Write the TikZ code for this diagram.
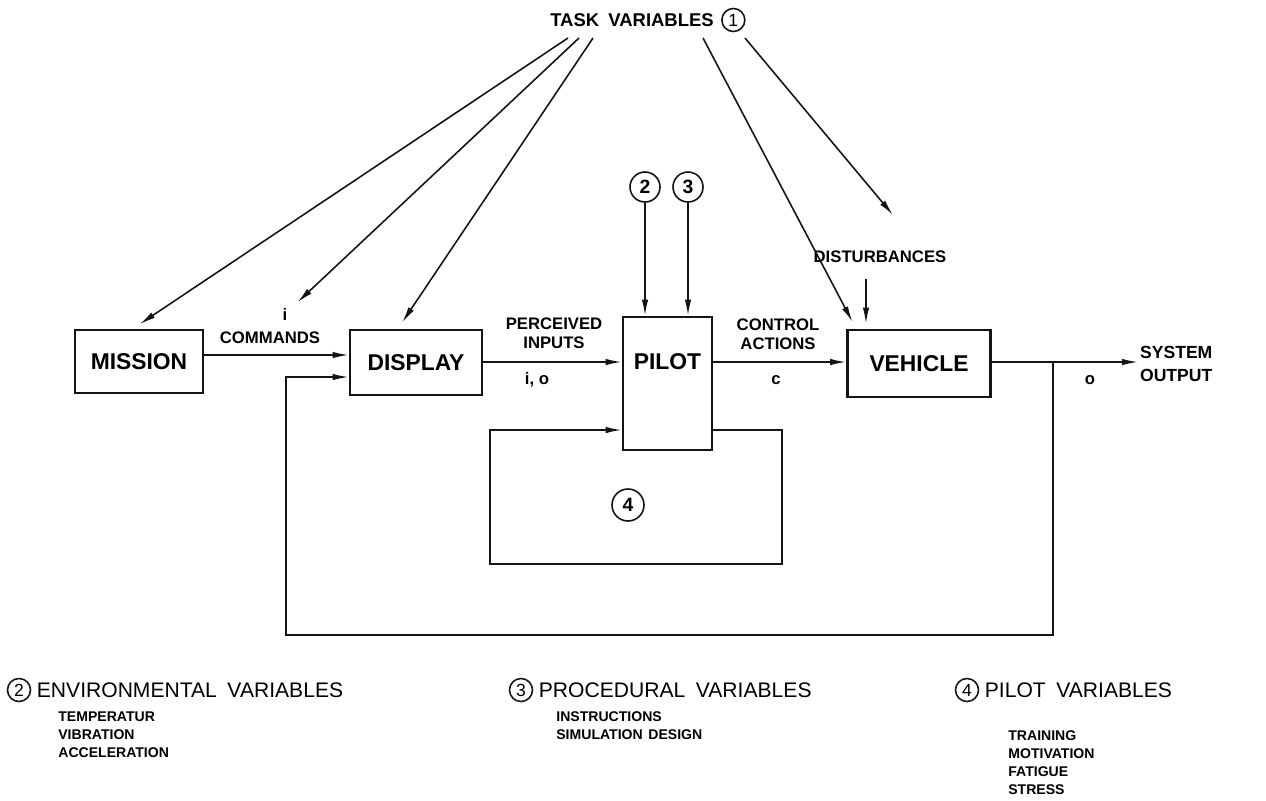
\documentclass[tikz,border=0pt]{standalone}
\usepackage{fontspec}
\setmainfont{Liberation Sans}
\usepackage{xcolor}
\definecolor{cInk}{HTML}{141414}
\usepackage{tikz}
\usetikzlibrary{positioning,arrows.meta}
\tikzset{
  node-block/.style={draw=cInk,line width=1.6pt,inner sep=0pt,align=center,
    font=\bfseries\fontsize{13}{15}\selectfont},
  node-num/.style={draw=cInk,circle,line width=0.9pt,inner sep=0pt,
    minimum size=6mm,font=\bfseries\fontsize{11}{12}\selectfont},
  node-num-small/.style={node-num,minimum size=4.6mm,font=\fontsize{10}{11}\selectfont},
  node-sig/.style={inner sep=1pt,align=center,
    font=\bfseries\fontsize{9.5}{11}\selectfont},
  node-title/.style={inner sep=1pt,font=\bfseries\fontsize{10.5}{12}\selectfont},
  legend-head/.style={inner sep=1pt,font=\fontsize{12}{14}\selectfont},
  legend-item/.style={inner sep=0pt,align=left,
    font=\bfseries\fontsize{8}{10.3}\selectfont},
  arrow/.style={-{Latex[length=3.2mm,width=1.3mm]},line width=0.9pt,draw=cInk},
  wire/.style={line width=0.9pt,draw=cInk},
}
\begin{document}
\begin{tikzpicture}[x=0.2mm,y=-0.2mm]
  \useasboundingbox (0,0) rectangle (1266,800);
  % blocks
  \node[node-block,minimum width=25.6mm,minimum height=12.6mm] (mission) at (139,361.5) {MISSION};
  \node[node-block,minimum width=26.4mm,minimum height=13mm] (display) at (416,362.5) {DISPLAY};
  \node[node-block,minimum width=17.8mm,minimum height=26.6mm] (pilot) at (667.5,383.5) {};
  \node[node-block,draw=none] (pilot-txt) at (667.5,362) {PILOT};
  \node[node-block,minimum width=28.6mm,minimum height=13.4mm] (vehicle) at (919,363.5) {VEHICLE};
  % task variables
  \node[node-title] (task) at (632,20) {TASK\hspace{0.5em}VARIABLES};
  \node[node-num-small,right=3pt of task] (task-num) {1};
  \coordinate (tv1) at (568,38);
  \coordinate (tv2) at (579,38);
  \coordinate (tv3) at (593,38);
  \coordinate (tv4) at (703,38);
  \coordinate (tv5) at (745,38);
  % labels
  \node[node-sig] (cmd-i) at (285,314) {i};
  \node[node-sig] (cmd) at (270,338) {COMMANDS};
  \node[node-sig] (perc) at (554,333) {PERCEIVED\\INPUTS};
  \node[node-sig] (perc-io) at (537,380) {i, o};
  \node[node-sig] (ctrl) at (778,334) {CONTROL\\ACTIONS};
  \node[node-sig] (ctrl-c) at (776,380) {c};
  \node[node-sig] (dist) at (880,257) {DISTURBANCES};
  \node[node-sig] (out-o) at (1090,380) {o};
  \node[node-sig,anchor=west,font=\bfseries\fontsize{10}{13.5}\selectfont] (sysout) at (1138,364) {SYSTEM\\OUTPUT};
  \node[node-num] (env) at (645,187) {2};
  \node[node-num] (proc) at (688,187) {3};
  \node[node-num,minimum size=6.4mm] (pvar) at (628,505) {4};
  \coordinate (dist-in) at (893,215);
  \coordinate (dist-out) at (866,279);
  % task arrows
  \draw[arrow,shorten >=1.6mm] (tv1) -- ([xshift=-1.2mm]mission.north);
  \draw[arrow,shorten >=2.2mm] (tv2) -- (cmd-i);
  \draw[arrow,shorten >=1.5mm] (tv3) -- (display.north -| 398,0);
  \draw[arrow,shorten >=1.5mm] (tv4) -- (vehicle.north -| 856,0);
  \draw[arrow] (tv5) -- (dist-in);
  \draw[arrow,shorten >=1mm] (dist-out) -- (vehicle.north -| dist-out);
  \draw[arrow] (env) -- (env |- pilot.north);
  \draw[arrow] (proc) -- (proc |- pilot.north);
  % forward path
  \draw[arrow] ([yshift=1.3mm]mission.east) -- ([yshift=1.3mm]mission.east -| display.west);
  \draw[arrow] (display.east |- pilot-txt) -- (pilot.west |- pilot-txt);
  \draw[arrow] (pilot.east |- pilot-txt) -- (vehicle.west |- pilot-txt);
  \draw[arrow] (vehicle.east |- pilot-txt) -- (vehicle.east |- pilot-txt -| sysout.west);
  % feedback loops
  \coordinate (tap) at (1053,362);
  \coordinate (fb-se) at (1053,635);
  \coordinate (fb-sw) at (286,635);
  \coordinate (fb-nw) at (286,377);
  \draw[arrow] (tap) -- (fb-se) -- (fb-sw) -- (fb-nw) -- (display.west |- fb-nw);
  \coordinate (loop-ne) at (782,430);
  \coordinate (loop-se) at (782,564);
  \coordinate (loop-sw) at (490,564);
  \coordinate (loop-nw) at (490,430);
  \draw[arrow] (pilot.east |- loop-ne) -- (loop-ne) -- (loop-se) -- (loop-sw)
    -- (loop-nw) -- (pilot.west |- loop-nw);
  % legend
  \node[node-num-small] (leg-env) at (19,690) {2};
  \node[legend-head,right=2pt of leg-env] (leg-env-head) {ENVIRONMENTAL\hspace{0.5em}VARIABLES};
  \node[legend-item,anchor=north west] (leg-env-list) at (58,711)
    {TEMPERATUR\\VIBRATION\\ACCELERATION};
  \node[node-num-small] (leg-proc) at (521,690) {3};
  \node[legend-head,right=2pt of leg-proc] (leg-proc-head) {PROCEDURAL\hspace{0.5em}VARIABLES};
  \node[legend-item,anchor=north west] (leg-proc-list) at (556,711)
    {INSTRUCTIONS\\SIMULATION\hspace{0.4em}DESIGN};
  \node[node-num-small] (leg-pvar) at (967,690) {4};
  \node[legend-head,right=2pt of leg-pvar] (leg-pvar-head) {PILOT\hspace{0.5em}VARIABLES};
  \node[legend-item,anchor=north west] (leg-pvar-list) at (1008,730)
    {TRAINING\\MOTIVATION\\FATIGUE\\STRESS};
\end{tikzpicture}
\end{document}
